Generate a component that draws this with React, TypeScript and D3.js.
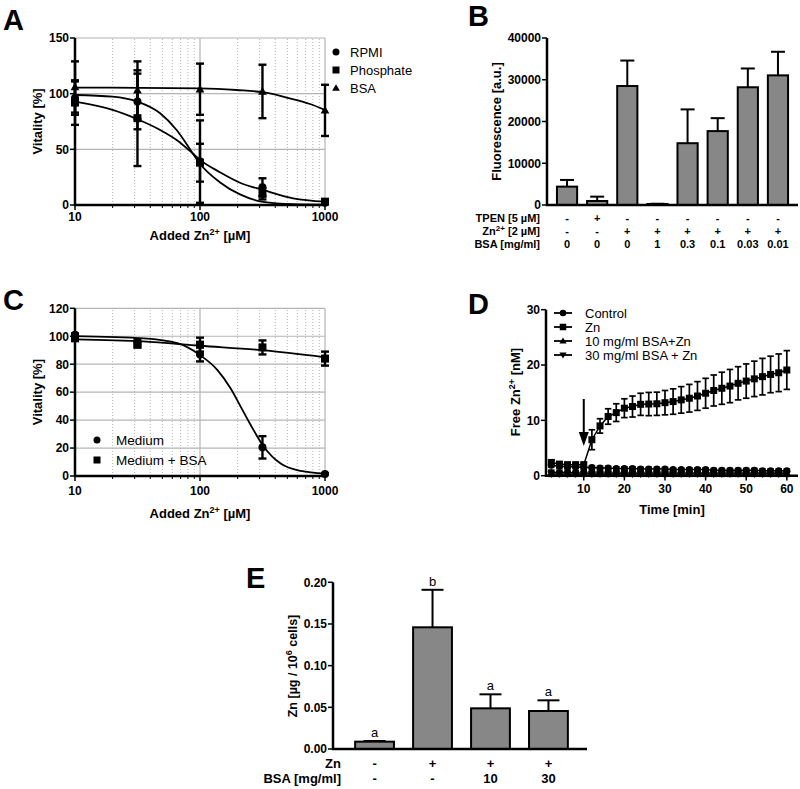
import React from 'react';
import * as d3 from 'd3';

const FONT = '"Liberation Sans", Arial, Helvetica, sans-serif';
const GRID = '#b4b4b4';
const BAR = '#878787';

// ---------- Panel A ----------
const A_X = [10, 31.6, 100, 316, 1000];
const A_RPMI = [96, 93, 39, 16, 2];
const A_RPMI_ERR = [15, 25, 37, 8, 1];
const A_PHOS = [92, 78, 38, 10, 3];
const A_PHOS_ERR = [20, 43, 17, 5, 1];
const A_BSA = [106, 103, 104, 102, 85];
const A_BSA_ERR = [23, 26, 23, 24, 23];
const A_FIT_X = [10, 20, 31.6, 48, 65, 88, 100, 144, 209, 320, 557, 1000];
const A_FIT_RPMI = [98.8, 97.3, 92.8, 82.4, 67.4, 46, 37, 20.5, 9.5, 2.8, 0.7, 0.3];
const A_FIT_PHOS = [92.8, 85.4, 77, 67.4, 58.4, 46, 40.5, 29.5, 20, 13.5, 6, 3];
const A_FIT_BSA_X = [10, 100, 196, 337, 524, 759, 1000];
const A_FIT_BSA = [105.5, 104.8, 103.3, 100.9, 95.8, 90.7, 85.3];
const A_YTICKS = [0, 50, 100, 150];
const A_LEGEND = ['RPMI', 'Phosphate', 'BSA'];

// ---------- Panel B ----------
const B_VAL = [4400, 960, 28500, 240, 14800, 17700, 28200, 31050];
const B_ERR = [1600, 1040, 6100, 60, 8100, 3100, 4500, 5650];
const B_TPEN = ['-', '+', '-', '-', '-', '-', '-', '-'];
const B_ZN = ['-', '-', '+', '+', '+', '+', '+', '+'];
const B_BSA = ['0', '0', '0', '1', '0.3', '0.1', '0.03', '0.01'];
const B_YTICKS = [0, 10000, 20000, 30000, 40000];

// ---------- Panel C ----------
const C_X = [10, 31.6, 100, 316, 1000];
const C_MED = [101, 96, 87, 20.5, 1.5];
const C_MED_ERR = [1, 2, 5, 8, 0.5];
const C_MEDBSA = [98.5, 94, 94, 92, 84];
const C_MEDBSA_ERR = [1, 2, 5, 5, 5];
const C_FIT_MED_X = [10, 35.6, 65.9, 100, 138, 176, 212, 255, 325, 442, 640, 1000];
const C_FIT_MED = [100.1, 98.5, 95, 86.5, 75.8, 62.6, 49.5, 36.3, 20.8, 8.9, 3.6, 1.7];
const C_FIT_BSA_X = [10, 35, 100, 316, 1000];
const C_FIT_BSA = [97.8, 96.3, 93.2, 90, 84.9];
const C_YTICKS = [0, 20, 40, 60, 80, 100, 120];
const C_LEGEND = ['Medium', 'Medium + BSA'];

// ---------- Panel D ----------
const D_T = [2, 4, 6, 8, 10, 12, 14, 16, 18, 20, 22, 24, 26, 28, 30, 32, 34, 36, 38, 40, 42, 44, 46, 48, 50, 52, 54, 56, 58, 60];
const D_CTRL = [1.9, 1.7, 1.6, 1.6, 1.5, 1.5, 1.4, 1.4, 1.3, 1.3, 1.3, 1.2, 1.2, 1.2, 1.2, 1.1, 1.1, 1.1, 1.1, 1.1, 1.0, 1.0, 1.0, 1.0, 1.0, 1.0, 0.9, 0.9, 0.9, 0.9];
const D_CTRL_ERR = [0.3, 0.3, 0.3, 0.3, 0.3, 0.3, 0.3, 0.3, 0.3, 0.3, 0.3, 0.3, 0.3, 0.3, 0.3, 0.3, 0.3, 0.3, 0.3, 0.3, 0.3, 0.3, 0.3, 0.3, 0.3, 0.3, 0.3, 0.3, 0.3, 0.3];
const D_ZN = [2.4, 2.1, 2.0, 2.0, 2.0, 6.5, 9.0, 10.7, 11.4, 12.2, 12.5, 12.9, 12.95, 13.0, 13.2, 13.4, 13.7, 14.0, 14.4, 14.9, 15.4, 15.8, 16.2, 16.7, 17.1, 17.5, 17.9, 18.3, 18.6, 19.1];
const D_ZN_ERR = [0.4, 0.3, 0.3, 0.3, 0.3, 1.8, 1.3, 1.4, 1.6, 1.7, 1.9, 2.0, 2.1, 2.1, 2.2, 2.3, 2.4, 2.5, 2.6, 2.7, 2.8, 2.9, 3.0, 3.0, 3.1, 3.2, 3.3, 3.3, 3.4, 3.5];
const D_BSA10 = [0.6, 0.6, 0.6, 0.5, 0.5, 0.5, 0.5, 0.5, 0.5, 0.5, 0.5, 0.5, 0.5, 0.5, 0.5, 0.5, 0.5, 0.5, 0.5, 0.5, 0.5, 0.5, 0.5, 0.5, 0.5, 0.5, 0.5, 0.5, 0.5, 0.5];
const D_BSA10_ERR = [0.4, 0.4, 0.4, 0.4, 0.4, 0.4, 0.4, 0.4, 0.4, 0.4, 0.4, 0.4, 0.4, 0.4, 0.4, 0.4, 0.4, 0.4, 0.4, 0.4, 0.4, 0.4, 0.4, 0.4, 0.4, 0.4, 0.4, 0.4, 0.4, 0.4];
const D_BSA30 = [0.3, 0.3, 0.3, 0.3, 0.3, 0.3, 0.3, 0.3, 0.3, 0.3, 0.3, 0.3, 0.3, 0.3, 0.3, 0.3, 0.3, 0.3, 0.3, 0.3, 0.3, 0.3, 0.3, 0.3, 0.3, 0.3, 0.3, 0.3, 0.3, 0.3];
const D_BSA30_ERR = [0.4, 0.4, 0.4, 0.4, 0.4, 0.4, 0.4, 0.4, 0.4, 0.4, 0.4, 0.4, 0.4, 0.4, 0.4, 0.4, 0.4, 0.4, 0.4, 0.4, 0.4, 0.4, 0.4, 0.4, 0.4, 0.4, 0.4, 0.4, 0.4, 0.4];
const D_XTICKS = [10, 20, 30, 40, 50, 60];
const D_YTICKS = [0, 10, 20, 30];
const D_LEGEND = ['Control', 'Zn', '10 mg/ml BSA+Zn', '30 mg/ml BSA + Zn'];
const D_ARROW_T = 10;

// ---------- Panel E ----------
const E_VAL = [0.0088, 0.146, 0.0488, 0.0456];
const E_ERR = [0.0008, 0.045, 0.0168, 0.0128];
const E_LETTERS = ['a', 'b', 'a', 'a'];
const E_ZN = ['-', '+', '+', '+'];
const E_BSA = ['-', '-', '10', '30'];
const E_YTICKS = [0, 0.05, 0.1, 0.15, 0.2];

type MType = 'circle' | 'square' | 'up' | 'down';

function Marker({ type, x, y, s }: { type: MType; x: number; y: number; s: number }) {
  const h = s / 2;
  if (type === 'circle') return <circle cx={x} cy={y} r={h} fill="#000" />;
  if (type === 'square') return <rect x={x - h} y={y - h} width={s} height={s} fill="#000" />;
  if (type === 'up')
    return <polygon points={`${x},${y - h * 1.1} ${x - h * 1.1},${y + h * 0.8} ${x + h * 1.1},${y + h * 0.8}`} fill="#000" />;
  return <polygon points={`${x},${y + h * 1.1} ${x - h * 1.1},${y - h * 0.8} ${x + h * 1.1},${y - h * 0.8}`} fill="#000" />;
}

function ErrBar({ x, y1, y2, w, sw }: { x: number; y1: number; y2: number; w: number; sw: number }) {
  return (
    <g stroke="#000" strokeWidth={sw}>
      <line x1={x} x2={x} y1={y1} y2={y2} />
      <line x1={x - w / 2} x2={x + w / 2} y1={y1} y2={y1} />
      <line x1={x - w / 2} x2={x + w / 2} y1={y2} y2={y2} />
    </g>
  );
}

function LogPanel(props: {
  x0: number; x1: number; y0: number; y1: number; ymax: number; yticks: number[];
  series: { xs: number[]; ys: number[]; es: number[]; type: MType }[];
  fits: { xs: number[]; ys: number[] }[];
  tickBase: number; titleBase: number; ylabX: number;
}) {
  const { x0, x1, y0, y1, ymax, yticks, series, fits } = props;
  const x = d3.scaleLog().domain([10, 1000]).range([x0, x1]);
  const y = d3.scaleLinear().domain([0, ymax]).range([y0, y1]);
  const minors = [20, 30, 40, 50, 60, 70, 80, 90, 200, 300, 400, 500, 600, 700, 800, 900];
  const line = d3.line<number>().curve(d3.curveMonotoneX);
  return (
    <g>
      {minors.map((m) => (
        <line key={'m' + m} x1={x(m)} x2={x(m)} y1={y0} y2={y1} stroke={GRID} strokeWidth={1} strokeDasharray="1,2" />
      ))}
      {[100, 1000].map((m) => (
        <line key={'M' + m} x1={x(m)} x2={x(m)} y1={y0} y2={y1} stroke={GRID} strokeWidth={1.2} />
      ))}
      {yticks.filter((t) => t > 0).map((t) => (
        <line key={'h' + t} x1={x0} x2={x1} y1={y(t)} y2={y(t)} stroke={GRID} strokeWidth={1.2} />
      ))}
      {fits.map((f, i) => (
        <path key={'f' + i} d={line(f.xs.map((v, j) => [x(v), y(f.ys[j])]) as any) || ''} fill="none" stroke="#000" strokeWidth={1.8} />
      ))}
      {series.map((s, i) => (
        <g key={'s' + i}>
          {s.xs.map((v, j) => (
            <ErrBar key={j} x={x(v)} y1={y(s.ys[j] - s.es[j])} y2={y(s.ys[j] + s.es[j])} w={8} sw={2.4} />
          ))}
          {s.xs.map((v, j) => (
            <Marker key={'k' + j} type={s.type} x={x(v)} y={y(s.ys[j])} s={8} />
          ))}
        </g>
      ))}
      <line x1={x0} x2={x0} y1={y0 + 1} y2={y1} stroke="#000" strokeWidth={2.5} />
      <line x1={x0 - 1} x2={x1} y1={y0} y2={y0} stroke="#000" strokeWidth={2.5} />
      {yticks.map((t) => (
        <g key={'yt' + t}>
          <line x1={x0 - 5} x2={x0} y1={y(t)} y2={y(t)} stroke="#000" strokeWidth={1.5} />
          <text x={x0 - 6} y={y(t)} dy="0.36em" textAnchor="end" fontSize={12} fontWeight="bold">{t}</text>
        </g>
      ))}
      {minors.map((m) => (
        <line key={'xm' + m} x1={x(m)} x2={x(m)} y1={y0} y2={y0 + 3} stroke="#000" strokeWidth={1} />
      ))}
      {[10, 100, 1000].map((t) => (
        <g key={'xt' + t}>
          <line x1={x(t)} x2={x(t)} y1={y0} y2={y0 + 5} stroke="#000" strokeWidth={1.5} />
          <text x={x(t)} y={props.tickBase} textAnchor="middle" fontSize={12} fontWeight="bold">{t}</text>
        </g>
      ))}
      <text x={(x0 + x1) / 2} y={props.titleBase} textAnchor="middle" fontSize={13} fontWeight="bold">
        Added Zn<tspan dy="-5" fontSize="9">2+</tspan><tspan dy="5"> [µM]</tspan>
      </text>
      <text transform={`translate(${props.ylabX},${(y0 + y1) / 2}) rotate(-90)`} textAnchor="middle" fontSize={13} fontWeight="bold">
        Vitality [%]
      </text>
    </g>
  );
}

function PanelB() {
  const x = d3.scaleBand<number>().domain(B_VAL.map((_, i) => i)).range([547, 798]).padding(0.33);
  const y = d3.scaleLinear().domain([0, 40000]).range([205, 38]);
  const bw = x.bandwidth();
  return (
    <g>
      {B_VAL.map((v, i) => {
        const cx = (x(i) as number) + bw / 2;
        return (
          <g key={i}>
            <line x1={cx} x2={cx} y1={y(v)} y2={y(v + B_ERR[i])} stroke="#000" strokeWidth={2} />
            <line x1={cx - 7} x2={cx + 7} y1={y(v + B_ERR[i])} y2={y(v + B_ERR[i])} stroke="#000" strokeWidth={2} />
            <rect x={x(i)} y={y(v)} width={bw} height={205 - y(v)} fill={BAR} stroke="#000" strokeWidth={2} />
          </g>
        );
      })}
      <line x1={547} x2={547} y1={206} y2={38} stroke="#000" strokeWidth={2.5} />
      <line x1={546} x2={798} y1={205} y2={205} stroke="#000" strokeWidth={2.5} />
      {B_YTICKS.map((t) => (
        <g key={t}>
          <line x1={542} x2={547} y1={y(t)} y2={y(t)} stroke="#000" strokeWidth={1.5} />
          <text x={541} y={y(t)} dy="0.36em" textAnchor="end" fontSize={12} fontWeight="bold">{t}</text>
        </g>
      ))}
      <text transform={`translate(${501},${(38 + 205) / 2}) rotate(-90)`} textAnchor="middle" fontSize={13} fontWeight="bold">
        Fluorescence [a.u.]
      </text>
      <g fontSize={11} fontWeight="bold">
        <text x={540} y={222} textAnchor="end">TPEN [5 µM]</text>
        <text x={540} y={235} textAnchor="end">Zn<tspan dy="-4" fontSize="8">2+</tspan><tspan dy="4"> [2 µM]</tspan></text>
        <text x={540} y={248} textAnchor="end">BSA [mg/ml]</text>
        {B_VAL.map((_, i) => {
          const cx = (x(i) as number) + bw / 2;
          return (
            <g key={i}>
              <text x={cx} y={222} textAnchor="middle">{B_TPEN[i]}</text>
              <text x={cx} y={235} textAnchor="middle">{B_ZN[i]}</text>
              <text x={cx} y={248} textAnchor="middle">{B_BSA[i]}</text>
            </g>
          );
        })}
      </g>
    </g>
  );
}

function PanelD() {
  const x = d3.scaleLinear().domain([0.7, 63]).range([546, 799]);
  const y = d3.scaleLinear().domain([0, 30]).range([475.7, 309.7]);
  const line = d3.line<number>();
  const series: { v: number[]; e: number[]; type: MType }[] = [
    { v: D_BSA30, e: D_BSA30_ERR, type: 'down' },
    { v: D_BSA10, e: D_BSA10_ERR, type: 'up' },
    { v: D_CTRL, e: D_CTRL_ERR, type: 'circle' },
    { v: D_ZN, e: D_ZN_ERR, type: 'square' },
  ];
  const ax = x(D_ARROW_T);
  const legendTypes: MType[] = ['circle', 'square', 'up', 'down'];
  return (
    <g>
      {series.map((s, k) => (
        <g key={k}>
          <path d={line(D_T.map((t, i) => [x(t), y(s.v[i])]) as any) || ''} fill="none" stroke="#000" strokeWidth={1.5} />
          {D_T.map((t, i) => (
            <ErrBar key={i} x={x(t)} y1={y(s.v[i] - s.e[i])} y2={y(s.v[i] + s.e[i])} w={6.5} sw={1.7} />
          ))}
          {D_T.map((t, i) => (
            <Marker key={'m' + i} type={s.type} x={x(t)} y={y(s.v[i])} s={7} />
          ))}
        </g>
      ))}
      <line x1={ax} x2={ax} y1={399} y2={436} stroke="#000" strokeWidth={2} />
      <polygon points={`${ax},${446} ${ax - 5},${432} ${ax + 5},${432}`} fill="#000" />
      <line x1={546} x2={546} y1={477} y2={309.7} stroke="#000" strokeWidth={2.5} />
      <line x1={545} x2={798} y1={475.7} y2={475.7} stroke="#000" strokeWidth={2.5} />
      {D_YTICKS.map((t) => (
        <g key={t}>
          <line x1={541} x2={546} y1={y(t)} y2={y(t)} stroke="#000" strokeWidth={1.5} />
          <text x={540} y={y(t)} dy="0.36em" textAnchor="end" fontSize={12} fontWeight="bold">{t}</text>
        </g>
      ))}
      {D_XTICKS.map((t) => (
        <g key={t}>
          <line x1={x(t)} x2={x(t)} y1={475.7} y2={480.5} stroke="#000" strokeWidth={1.5} />
          <text x={x(t)} y={493} textAnchor="middle" fontSize={12} fontWeight="bold">{t}</text>
        </g>
      ))}
      <text x={672} y={514} textAnchor="middle" fontSize={13} fontWeight="bold">Time [min]</text>
      <text transform={`translate(${520},${392}) rotate(-90)`} textAnchor="middle" fontSize={13} fontWeight="bold">
        Free Zn<tspan dy="-5" fontSize="9">2+</tspan><tspan dy="5"> [nM]</tspan>
      </text>
      {D_LEGEND.map((l, i) => (
        <g key={l}>
          <line x1={554} x2={572} y1={313 + i * 14} y2={313 + i * 14} stroke="#000" strokeWidth={1.8} />
          <Marker type={legendTypes[i]} x={563} y={313 + i * 14} s={6.5} />
          <text x={585} y={313 + i * 14} dy="0.36em" fontSize={13}>{l}</text>
        </g>
      ))}
    </g>
  );
}

function PanelE() {
  const x = d3.scaleBand<number>().domain(E_VAL.map((_, i) => i)).range([336, 587]).padding(0.33);
  const y = d3.scaleLinear().domain([0, 0.2]).range([749, 582.3]);
  const bw = x.bandwidth();
  return (
    <g>
      {E_VAL.map((v, i) => {
        const cx = (x(i) as number) + bw / 2;
        const top = y(v + E_ERR[i]);
        return (
          <g key={i}>
            <line x1={cx} x2={cx} y1={y(v)} y2={top} stroke="#000" strokeWidth={2} />
            <line x1={cx - 11} x2={cx + 11} y1={top} y2={top} stroke="#000" strokeWidth={2} />
            <rect x={x(i)} y={y(v)} width={bw} height={749 - y(v)} fill={BAR} stroke="#000" strokeWidth={2} />
            <text x={cx} y={top - 4} textAnchor="middle" fontSize={13}>{E_LETTERS[i]}</text>
          </g>
        );
      })}
      <line x1={333} x2={333} y1={750} y2={582.3} stroke="#000" strokeWidth={2.5} />
      <line x1={332} x2={587} y1={749} y2={749} stroke="#000" strokeWidth={2.5} />
      {E_YTICKS.map((t) => (
        <g key={t}>
          <line x1={328} x2={333} y1={y(t)} y2={y(t)} stroke="#000" strokeWidth={1.5} />
          <text x={327} y={y(t)} dy="0.36em" textAnchor="end" fontSize={12} fontWeight="bold">{t.toFixed(2)}</text>
        </g>
      ))}
      <text transform={`translate(${297},${666}) rotate(-90)`} textAnchor="middle" fontSize={12.5} fontWeight="bold">
        Zn [µg / 10<tspan dy="-5" fontSize="9">6</tspan><tspan dy="5"> cells]</tspan>
      </text>
      <g fontSize={13} fontWeight="bold">
        <text x={341} y={768} textAnchor="end">Zn</text>
        <text x={341} y={783} textAnchor="end">BSA [mg/ml]</text>
        {E_VAL.map((_, i) => {
          const cx = (x(i) as number) + bw / 2;
          return (
            <g key={i}>
              <text x={cx} y={768} textAnchor="middle">{E_ZN[i]}</text>
              <text x={cx} y={783} textAnchor="middle">{E_BSA[i]}</text>
            </g>
          );
        })}
      </g>
    </g>
  );
}

export default function App() {
  const aTypes: MType[] = ['circle', 'square', 'up'];
  return (
    <svg width={800} height={789} style={{ position: 'absolute', left: 0, top: 0, background: '#fff' }} fontFamily={FONT}>
      <rect width={800} height={789} fill="#fff" />
      <g fontSize={29} fontWeight="bold">
        <text x={3} y={30}>A</text>
        <text x={468} y={26}>B</text>
        <text x={3} y={310}>C</text>
        <text x={468} y={314}>D</text>
        <text x={246} y={588}>E</text>
      </g>
      <LogPanel
        x0={75} x1={325} y0={205} y1={38} ymax={150} yticks={A_YTICKS}
        series={[
          { xs: A_X, ys: A_BSA, es: A_BSA_ERR, type: 'up' },
          { xs: A_X, ys: A_PHOS, es: A_PHOS_ERR, type: 'square' },
          { xs: A_X, ys: A_RPMI, es: A_RPMI_ERR, type: 'circle' },
        ]}
        fits={[
          { xs: A_FIT_X, ys: A_FIT_RPMI },
          { xs: A_FIT_X, ys: A_FIT_PHOS },
          { xs: A_FIT_BSA_X, ys: A_FIT_BSA },
        ]}
        tickBase={221} titleBase={240} ylabX={42}
      />
      {A_LEGEND.map((l, i) => (
        <g key={l}>
          <Marker type={aTypes[i]} x={336} y={52 + i * 18} s={7} />
          <text x={350} y={52 + i * 18} dy="0.36em" fontSize={13}>{l}</text>
        </g>
      ))}
      <PanelB />
      <LogPanel
        x0={75} x1={325} y0={476} y1={308.3} ymax={120} yticks={C_YTICKS}
        series={[
          { xs: C_X, ys: C_MEDBSA, es: C_MEDBSA_ERR, type: 'square' },
          { xs: C_X, ys: C_MED, es: C_MED_ERR, type: 'circle' },
        ]}
        fits={[
          { xs: C_FIT_MED_X, ys: C_FIT_MED },
          { xs: C_FIT_BSA_X, ys: C_FIT_BSA },
        ]}
        tickBase={495} titleBase={518} ylabX={42}
      />
      {C_LEGEND.map((l, i) => (
        <g key={l}>
          <Marker type={i === 0 ? 'circle' : 'square'} x={97} y={440 + i * 20} s={7} />
          <text x={116} y={440 + i * 20} dy="0.36em" fontSize={13.5}>{l}</text>
        </g>
      ))}
      <PanelD />
      <PanelE />
    </svg>
  );
}
